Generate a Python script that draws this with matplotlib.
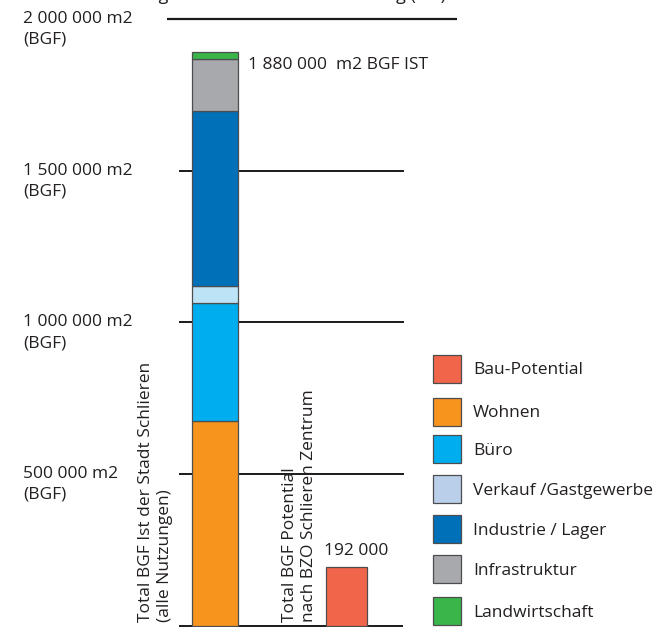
import matplotlib.pyplot as plt
from matplotlib.patches import Rectangle

plt.rcParams['font.family'] = ['Open Sans', 'DejaVu Sans']

# Daten (m2 BGF)
kategorien = ['Wohnen', 'Büro', 'Verkauf /Gastgewerbe', 'Industrie / Lager',
              'Infrastruktur', 'Landwirtschaft']
werte_ist = [675000, 388000, 55000, 577000, 173000, 22000]
farben_ist = ['#F7941E', '#00AEEF', '#BDE3F6', '#0070B8', '#A7A9AC', '#39B54A']
wert_potential = 192000
total_ist_label = '1 880 000  m2 BGF IST'
potential_label = '192 000'

legende_namen = ['Bau-Potential', 'Wohnen', 'Büro', 'Verkauf /Gastgewerbe',
                 'Industrie / Lager', 'Infrastruktur', 'Landwirtschaft']
legende_farben = ['#F1664A', '#F7941E', '#00AEEF', '#B9CFEA', '#0070B8',
                  '#A7A9AC', '#39B54A']

gitter_werte = [500000, 1000000, 1500000, 2000000]
gitter_labels = ['500 000 m2', '1 000 000 m2', '1 500 000 m2', '2 000 000 m2']

W, H = 655, 627
fig = plt.figure(figsize=(W / 100, H / 100), dpi=100)
ax = fig.add_axes([0, 0, 1, 1])
ax.set_axis_off()

# x in Pixel, y in m2 (0 bei Pixel 625.5, 2 Mio bei Pixel 19)
px_pro_m2 = 606.5 / 2e6
ax.set_xlim(0, W)
ax.set_ylim(-(H - 625.5) / px_pro_m2, 625.5 / px_pro_m2)

fs = 12.5
txt = '#231f20'

# Gitterlinien + Beschriftung links
for v, lab in zip(gitter_werte, gitter_labels):
    if v == 2000000:
        ax.hlines(v, 167, 457, color='#1a1a1a', lw=1.6, zorder=1)
    else:
        ax.hlines(v, 179, 404, color='#1a1a1a', lw=1.4, zorder=1)
    ax.annotate(lab, (23, v), va='center', ha='left', fontsize=fs, color=txt)
    ax.annotate('(BGF)', (23, v), xytext=(0, -21), textcoords='offset pixels',
                va='center', ha='left', fontsize=fs, color=txt)

# Grundlinie
ax.hlines(0, 179, 403, color='#1a1a1a', lw=1.4, zorder=1)

# gestapelter IST-Balken
boden = 0
for v, c in zip(werte_ist, farben_ist):
    ax.bar(215, v, width=46, bottom=boden, color=c, edgecolor='#4d4d4f',
           linewidth=0.9, zorder=3)
    boden += v

ax.annotate(total_ist_label, (248, boden), xytext=(0, -13),
            textcoords='offset pixels', va='center', ha='left',
            fontsize=fs, color=txt)

# Potential-Balken
ax.bar(346.5, wert_potential, width=41, color=legende_farben[0],
       edgecolor='#4d4d4f', linewidth=0.9, zorder=3)
ax.annotate(potential_label, (346.5, wert_potential), xytext=(10, 8),
            textcoords='offset pixels', va='bottom', ha='center',
            fontsize=fs, color=txt)

# vertikale Beschriftungen
ax.text(138, 3 / px_pro_m2, 'Total BGF Ist der Stadt Schlieren\n(alle Nutzungen)',
        rotation=90, ha='left', va='bottom', fontsize=fs, color=txt,
        linespacing=1.25)
ax.text(282, 3 / px_pro_m2, 'Total BGF Potential\nnach BZO Schlieren Zentrum',
        rotation=90, ha='left', va='bottom', fontsize=fs, color=txt,
        linespacing=1.25)

# Legende
zeilen_y = [368.5, 411.5, 449, 489, 529, 569, 611]
hv = 28 / px_pro_m2
for yp, name, c in zip(zeilen_y, legende_namen, legende_farben):
    yv = (625.5 - yp) / px_pro_m2
    ax.add_patch(Rectangle((433, yv - hv / 2), 28, hv, facecolor=c,
                           edgecolor='#4d4d4f', linewidth=0.9))
    ax.text(473, yv, name, va='center_baseline', ha='left', fontsize=fs,
            color=txt)

# Titel, oben vom Bildrand abgeschnitten
fig.text(105 / W, 1.0, 'Bruttogeschossfläche nach Nutzung (IST)',
         ha='left', va='baseline', fontsize=13, color=txt)

fig.savefig('out.png', dpi=100)
